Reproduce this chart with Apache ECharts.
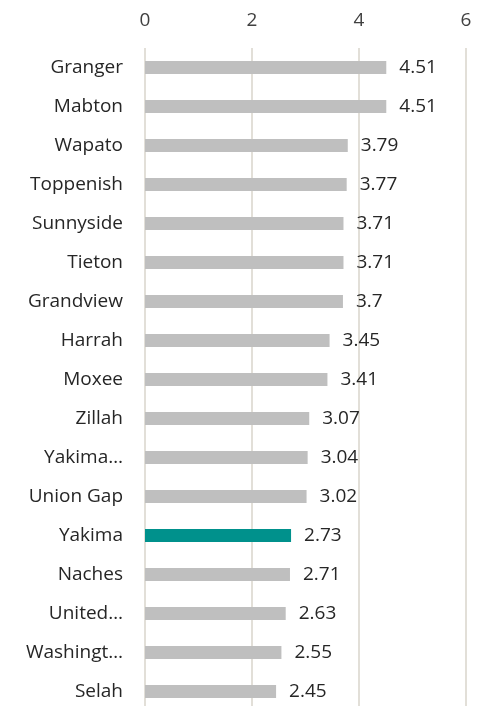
<!DOCTYPE html>
<html>
<head>
<meta charset="utf-8">
<script src="https://cdn.jsdelivr.net/npm/echarts@6/dist/echarts.min.js"></script>
<style>
  html, body { margin: 0; padding: 0; background: #ffffff; }
  #chart { width: 483px; height: 706px; }
</style>
</head>
<body>
<div id="chart"></div>
<script>
// Places, listed top to bottom
const places = [
  'Granger', 'Mabton', 'Wapato', 'Toppenish', 'Sunnyside', 'Tieton',
  'Grandview', 'Harrah', 'Moxee', 'Zillah', 'Yakima…', 'Union Gap',
  'Yakima', 'Naches', 'United…', 'Washingt…', 'Selah'
];
// Value for each place
const values = [
  4.51, 4.51, 3.79, 3.77, 3.71, 3.71,
  3.7, 3.45, 3.41, 3.07, 3.04, 3.02,
  2.73, 2.71, 2.63, 2.55, 2.45
];
// Place drawn in the accent colour
const highlighted = 'Yakima';

const FONT = '"Open Sans", sans-serif';

const chart = echarts.init(document.getElementById('chart'));
chart.setOption({
  animation: false,
  grid: { left: 145, right: 17, top: 48, height: 663, outerBoundsMode: 'none', containLabel: false },
  xAxis: {
    type: 'value',
    position: 'top',
    min: 0,
    max: 6,
    interval: 2,
    axisLine: { show: false },
    axisTick: { show: false },
    splitLine: { lineStyle: { color: '#e2dfd8', width: 2 } },
    axisLabel: { color: '#404040', fontSize: 19, fontFamily: FONT, margin: 18 }
  },
  yAxis: {
    type: 'category',
    inverse: true,
    data: places,
    axisLine: { show: false },
    axisTick: { show: false },
    axisLabel: { color: '#262626', fontSize: 19, fontFamily: FONT, margin: 22 }
  },
  series: [{
    type: 'bar',
    barWidth: 13,
    data: values.map((v, i) => ({
      value: v,
      itemStyle: { color: places[i] === highlighted ? '#00918c' : '#bfbfbf' }
    })),
    label: {
      show: true,
      position: 'right',
      distance: 13,
      color: '#262626',
      fontSize: 19,
      fontFamily: FONT
    }
  }]
});
</script>
</body>
</html>
